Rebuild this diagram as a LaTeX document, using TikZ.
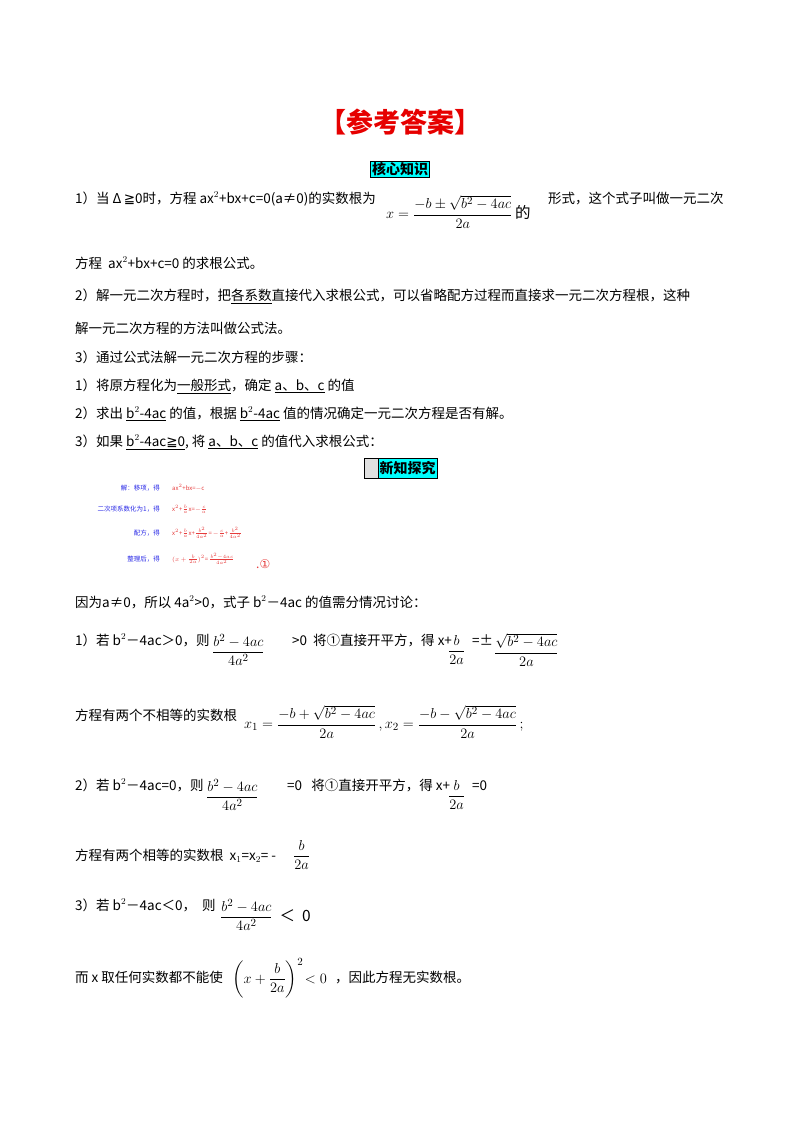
\documentclass[tikz,border=0pt]{standalone}
\usepackage{fontspec}
\usepackage{amsmath,amssymb}
\setmainfont{Noto Sans CJK SC}
\newfontfamily\dejavu{DejaVu Sans}
\definecolor{cyanbox}{RGB}{0,255,255}
\definecolor{titlered}{RGB}{230,0,0}
\definecolor{lblue}{RGB}{40,40,230}
\definecolor{lred}{RGB}{230,60,60}
\begin{document}
\begin{tikzpicture}[x=1pt,y=-1pt,
  txt/.style={anchor=base west,inner sep=0pt,font=\fontsize{13.5}{15}\selectfont},
  frm/.style={anchor=west,inner sep=0pt,font=\fontsize{15.5}{17}\selectfont},
  hbox/.style={fill=cyanbox,draw=black,inner sep=1.5pt,font=\fontsize{14}{16}\selectfont\bfseries},
  lbl/.style={anchor=base east,inner sep=0pt,text=lblue,font=\fontsize{6.5}{8}\selectfont},
  sm/.style={anchor=base west,inner sep=0pt,text=lred,font=\fontsize{6}{7}\selectfont}]
\useasboundingbox (0,0) rectangle (800,1132);
\node[anchor=base,text=titlered,font=\fontsize{27}{30}\selectfont\bfseries] (title) at (400,132) {【参考答案】};
\node[hbox] (h1) at (400,169) {核心知识};
\node[txt] (l1) at (75,203) {1）当 Δ\,{\dejavu≧}0时，方程 ax$^2$+bx+c=0(a≠0)的实数根为};
\node[frm] (f1) at (386,212) {$x=\dfrac{-b\pm\sqrt{b^2-4ac}}{2a}$\,\textit{的}};
\node[txt] (l1b) at (548,203) {形式，这个式子叫做一元二次};
\node[txt] (l2) at (75,268) {方程 \ ax$^2$+bx+c=0 的求根公式。};
\node[txt] (l3) at (75,300) {2）解一元二次方程时，把\underline{各系数}直接代入求根公式，可以省略配方过程而直接求一元二次方程根，这种};
\node[txt] (l4) at (75,333) {解一元二次方程的方法叫做公式法。};
\node[txt] (l5) at (75,362) {3）通过公式法解一元二次方程的步骤：};
\node[txt] (l6) at (75,390) {1）将原方程化为\underline{一般形式}，确定 \underline{a、b、c} 的值};
\node[txt] (l7) at (75,418) {2）求出 \underline{b$^2$-4ac} 的值，根据 \underline{b$^2$-4ac} 值的情况确定一元二次方程是否有解。};
\node[txt] (l8) at (75,446) {3）如果 \underline{b$^2$-4ac{\dejavu≧}0}, 将 \underline{a、b、c} 的值代入求根公式：};
\node[hbox,anchor=west,minimum height=20pt] (h2) at (378,468) {新知探究};
\node[draw=black,fill=black!12,minimum width=14pt,minimum height=20pt,inner sep=0pt,anchor=east] (h2a) at (h2.west) {};
\node[lbl] (a1) at (160,490) {解：移项，得};
\node[sm] (b1) at (172,490) {ax$^2$+bx=$-$c};
\node[lbl] (a2) at (160,511) {二次项系数化为1，得};
\node[sm] (b2) at (172,511) {x$^2$+$\frac{b}{a}$x=$-\frac{c}{a}$};
\node[lbl] (a3) at (160,535) {配方，得};
\node[sm] (b3) at (172,535) {x$^2$+$\frac{b}{a}$x+$\frac{b^2}{4a^2}$=\,$-\frac{c}{a}$+$\frac{b^2}{4a^2}$};
\node[lbl] (a4) at (160,561) {整理后，得};
\node[sm] (b4) at (172,561) {$(x+\frac{b}{2a})^2$=\,$\frac{b^2-4ac}{4a^2}$};
\node[anchor=base west,text=lred,inner sep=0pt,font=\fontsize{12}{14}\selectfont] (c1) at (256,568) {.{\dejavu①}};
\node[txt] (m1) at (75,607) {因为a≠0，所以 4a$^2$>0，式子 b$^2$－4ac 的值需分情况讨论：};
\node[txt] (m2) at (75,645) {1）若 b$^2$－4ac＞0，则};
\node[frm] (m2f) at (212,650) {$\dfrac{b^2-4ac}{4a^2}$};
\node[txt] (m2b) at (292,645) {>0 \ 将①直接开平方，得 x+};
\node[frm] (m2g) at (448,650) {$\dfrac{b}{2a}$};
\node[txt] (m2c) at (472,645) {=±};
\node[frm] (m2h) at (494,650) {$\dfrac{\sqrt{b^2-4ac}}{2a}$};
\node[txt] (m3) at (75,720) {方程有两个不相等的实数根};
\node[frm] (m3f) at (244,722) {$x_1=\dfrac{-b+\sqrt{b^2-4ac}}{2a}\,,x_2=\dfrac{-b-\sqrt{b^2-4ac}}{2a}\,;$};
\node[txt] (m4) at (75,790) {2）若 b$^2$－4ac=0，则};
\node[frm] (m4f) at (206,795) {$\dfrac{b^2-4ac}{4a^2}$};
\node[txt] (m4b) at (287,790) {=0 \ \ 将①直接开平方，得 x+};
\node[frm] (m4g) at (448,795) {$\dfrac{b}{2a}$};
\node[txt] (m4c) at (472,790) {=0};
\node[txt] (m5) at (75,860) {方程有两个相等的实数根 \ x$_1$=x$_2$= -};
\node[frm] (m5f) at (293,855) {$\dfrac{b}{2a}$};
\node[txt] (m6) at (75,910) {3）若 b$^2$－4ac＜0， \ 则};
\node[frm] (m6f) at (220,915) {$\dfrac{b^2-4ac}{4a^2}$ \ ＜ \ 0};
\node[txt] (m7) at (75,982) {而 x 取任何实数都不能使};
\node[frm] (m7f) at (232,978) {$\left(x+\dfrac{b}{2a}\right)^{2}\!<0$};
\node[txt] (m7b) at (335,982) {，因此方程无实数根。};
\end{tikzpicture}
\end{document}
